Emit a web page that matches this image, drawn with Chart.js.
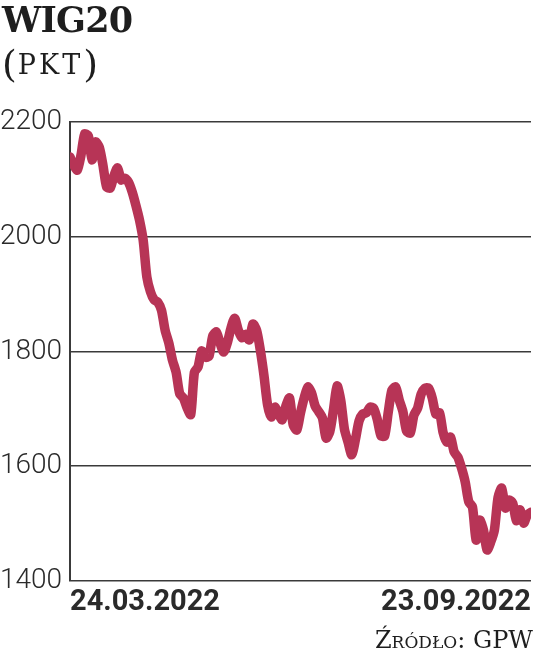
<!DOCTYPE html>
<html lang="pl">
<head>
<meta charset="utf-8">
<title>WIG20</title>
<script src="https://cdn.jsdelivr.net/npm/chart.js@4/dist/chart.umd.min.js"></script>
<style>
  html, body { margin: 0; padding: 0; background: #fff; }
  #wrap { position: relative; width: 536px; height: 667px; overflow: hidden; }
  #chart { position: absolute; left: 0; top: 0; }
  .title { position: absolute; left: 2px; top: -1px; font: bold 35px "DejaVu Serif", serif; color: #1e1e1e; letter-spacing: -0.8px; }
  .unit { position: absolute; left: 2px; top: 42px; font: 38px "DejaVu Serif", serif; color: #1e1e1e; }
  .unit span { font-size: 27px; letter-spacing: 3px; margin-left: 1px; vertical-align: 3px; }
  .source { position: absolute; right: 3px; top: 626px; font: 24px "DejaVu Serif", serif; font-variant: small-caps; color: #1e1e1e; }
</style>
</head>
<body>
<div id="wrap">
  <canvas id="chart" width="536" height="667"></canvas>
  <div class="title">WIG20</div>
  <div class="unit">(<span>PKT</span>)</div>
  <div class="source">Źródło: GPW</div>
</div>
<script>
// ─── Data ──────────────────────────────────────────────────────────────────
// WIG20 close, one value per trading day, 24.03.2022 – 23.09.2022
const WIG20_VALUES = [
  2139, 2125, 2116, 2142, 2179, 2176, 2134, 2165, 2156, 2125,
  2087, 2085, 2106, 2120, 2099, 2102, 2095, 2078, 2055, 2029,
  1994, 1930, 1904, 1890, 1886, 1872, 1837, 1815, 1785, 1764,
  1726, 1719, 1702, 1690, 1764, 1773, 1801, 1790, 1792, 1827,
  1834, 1815, 1799, 1815, 1841, 1858, 1837, 1824, 1830, 1820,
  1848, 1837, 1803, 1759, 1707, 1686, 1703, 1691, 1681, 1705,
  1719, 1672, 1663, 1693, 1719, 1738, 1728, 1705, 1695, 1684,
  1649, 1660, 1698, 1740, 1715, 1665, 1642, 1620, 1646, 1679,
  1691, 1693, 1703, 1701, 1681, 1653, 1653, 1695, 1733, 1738,
  1715, 1695, 1661, 1658, 1689, 1701, 1726, 1736, 1736, 1719,
  1691, 1693, 1658, 1642, 1651, 1625, 1616, 1597, 1573, 1538,
  1529, 1471, 1506, 1489, 1454, 1468, 1489, 1546, 1562, 1527,
  1541, 1536, 1505, 1524, 1501, 1515, 1520
];
const DATE_TICKS = [0, WIG20_VALUES.length - 1];
const DATE_LABELS = ['24.03.2022', '23.09.2022'];
const Y_TICKS = [1400, 1600, 1800, 2000, 2200];

// ─── Style ─────────────────────────────────────────────────────────────────
const LINE = '#b73456';
const INK = '#2a2a2a';
const GRID = '#3a3a3a';
const SANS = 'Roboto, "DejaVu Sans", sans-serif';

// ─── Chart ─────────────────────────────────────────────────────────────────
const ctx = document.getElementById('chart').getContext('2d');
new Chart(ctx, {
  type: 'line',
  data: {
    datasets: [{
      data: WIG20_VALUES.map((v, i) => ({ x: i, y: v })),
      borderColor: LINE, borderWidth: 9.5, pointRadius: 0,
      tension: 0.25, borderJoinStyle: 'round', borderCapStyle: 'round',
      fill: false,
    }]
  },
  options: {
    responsive: false, animation: false,
    layout: { padding: { top: 122, right: 5, bottom: 36, left: 0 } },
    plugins: { legend: { display: false }, tooltip: { enabled: false } },
    scales: {
      x: {
        type: 'linear', min: DATE_TICKS[0], max: DATE_TICKS[1],
        afterBuildTicks: s => { s.ticks = DATE_TICKS.map(v => ({ value: v })); },
        afterFit: s => { s.height = 50; },
        grid: { display: false, drawTicks: false },
        border: { display: false },
        ticks: {
          align: 'inner', maxRotation: 0, padding: 4, color: INK,
          font: { family: SANS, size: 29, weight: 'bold' },
          callback: v => DATE_LABELS[DATE_TICKS.indexOf(v)] ?? '',
        },
      },
      y: {
        min: Y_TICKS[0], max: Y_TICKS[Y_TICKS.length - 1],
        afterBuildTicks: s => { s.ticks = Y_TICKS.map(v => ({ value: v })); },
        afterFit: s => { s.width = 70; },
        grid: { color: GRID, lineWidth: 1.6, drawTicks: false },
        border: { display: true, color: GRID, width: 2 },
        ticks: {
          crossAlign: 'far', padding: 0, color: INK,
          font: { family: SANS, size: 28, weight: 300 },
          callback: v => String(v),
        },
      },
    },
  },
});
</script>
</body>
</html>
